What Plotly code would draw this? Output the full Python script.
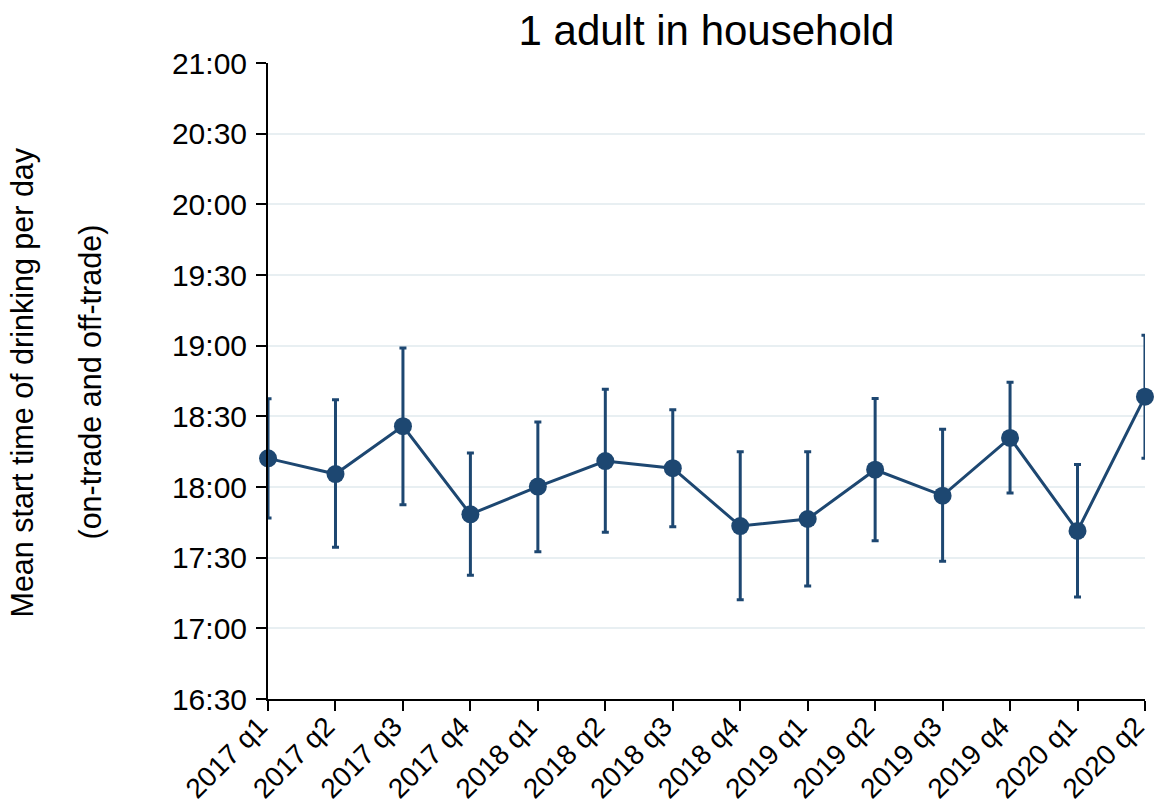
import plotly.graph_objects as go

quarters = ["2017 q1", "2017 q2", "2017 q3", "2017 q4", "2018 q1", "2018 q2", "2018 q3",
            "2018 q4", "2019 q1", "2019 q2", "2019 q3", "2019 q4", "2020 q1", "2020 q2"]
mean_time = ["18:12:10", "18:05:30", "18:25:50", "17:48:25", "18:00:10", "18:11:00", "18:08:00",
             "17:43:25", "17:46:25", "18:07:20", "17:56:20", "18:20:50", "17:41:20", "18:38:20"]
upper_time = ["18:37:30", "18:37:00", "18:59:00", "18:14:25", "18:27:35", "18:41:30", "18:32:50",
              "18:14:55", "18:14:55", "18:37:35", "18:24:30", "18:44:25", "18:09:30", "19:04:25"]
lower_time = ["17:46:50", "17:34:25", "17:52:30", "17:22:35", "17:32:30", "17:40:50", "17:43:10",
              "17:12:10", "17:18:00", "17:37:10", "17:28:30", "17:57:30", "17:13:20", "18:12:10"]
y_ticks = ["16:30", "17:00", "17:30", "18:00", "18:30", "19:00", "19:30", "20:00", "20:30", "21:00"]

title_text = "1 adult in household"
ytitle_line1 = "Mean start time of drinking per day"
ytitle_line2 = "(on-trade and off-trade)"


def to_hours(s):
    parts = [float(p) for p in s.split(":")]
    while len(parts) < 3:
        parts.append(0.0)
    return parts[0] + parts[1] / 60 + parts[2] / 3600


mean_h = [to_hours(s) for s in mean_time]
up_h = [to_hours(s) for s in upper_time]
lo_h = [to_hours(s) for s in lower_time]
err_plus = [u - m for u, m in zip(up_h, mean_h)]
err_minus = [m - l for m, l in zip(mean_h, lo_h)]
tick_vals = [to_hours(s) for s in y_ticks]

color = "#1d4771"
font = "Liberation Sans, Arial, sans-serif"

fig = go.Figure()
fig.add_trace(go.Scatter(
    x=list(range(len(quarters))), y=mean_h,
    mode="lines+markers",
    line=dict(color=color, width=3),
    marker=dict(color=color, size=18),
    error_y=dict(type="data", symmetric=False, array=err_plus, arrayminus=err_minus,
                 color=color, thickness=3, width=3.5),
    cliponaxis=False,
    showlegend=False,
))

W, H = 1154, 806
L, R, T, B = 268, 9, 63, 107
pw = W - L - R
ph = H - T - B
n = len(quarters)


def px_to_paper_x(sx):
    return (sx - L) / pw


def py_to_paper_y(sy):
    return (H - B - sy) / ph


fig.update_layout(
    width=W, height=H,
    margin=dict(l=L, r=R, t=T, b=B, autoexpand=False),
    paper_bgcolor="white", plot_bgcolor="white",
    font=dict(family=font, size=30, color="black"),
    title=dict(text=title_text, x=(L + pw / 2) / W, xanchor="center",
               y=1 - 30 / H, yanchor="middle", font=dict(size=42, color="black")),
    xaxis=dict(
        range=[-0.0005, n - 1 + 0.0005],
        tickvals=list(range(n)), ticktext=quarters,
        tickangle=-45, ticks="outside", ticklen=10, tickwidth=2, tickcolor="black",
        ticklabeloverflow="allow", ticklabelstandoff=-12, ticklabelshift=-9,
        showline=True, linecolor="black", linewidth=2,
        showgrid=False, zeroline=False, automargin=False,
        tickfont=dict(size=28),
    ),
    yaxis=dict(
        range=[tick_vals[0], tick_vals[-1]],
        tickvals=tick_vals, ticktext=y_ticks,
        ticks="outside", ticklen=10, tickwidth=2, tickcolor="black",
        ticklabelstandoff=3,
        showline=True, linecolor="black", linewidth=2,
        showgrid=True, gridcolor="#e8eff2", gridwidth=2,
        zeroline=False, automargin=False,
        tickfont=dict(size=30),
    ),
    annotations=[
        dict(text=ytitle_line1, xref="paper", yref="paper",
             x=px_to_paper_x(22), y=py_to_paper_y(382.5), xanchor="center", yanchor="middle",
             textangle=-90, showarrow=False, font=dict(size=30.5, color="black")),
        dict(text=ytitle_line2, xref="paper", yref="paper",
             x=px_to_paper_x(90), y=py_to_paper_y(382.5), xanchor="center", yanchor="middle",
             textangle=-90, showarrow=False, font=dict(size=30.5, color="black")),
    ],
)

fig.write_html("out.html", config={"displayModeBar": False},
               post_script="document.body.style.margin='0';document.body.style.overflow='hidden';")
